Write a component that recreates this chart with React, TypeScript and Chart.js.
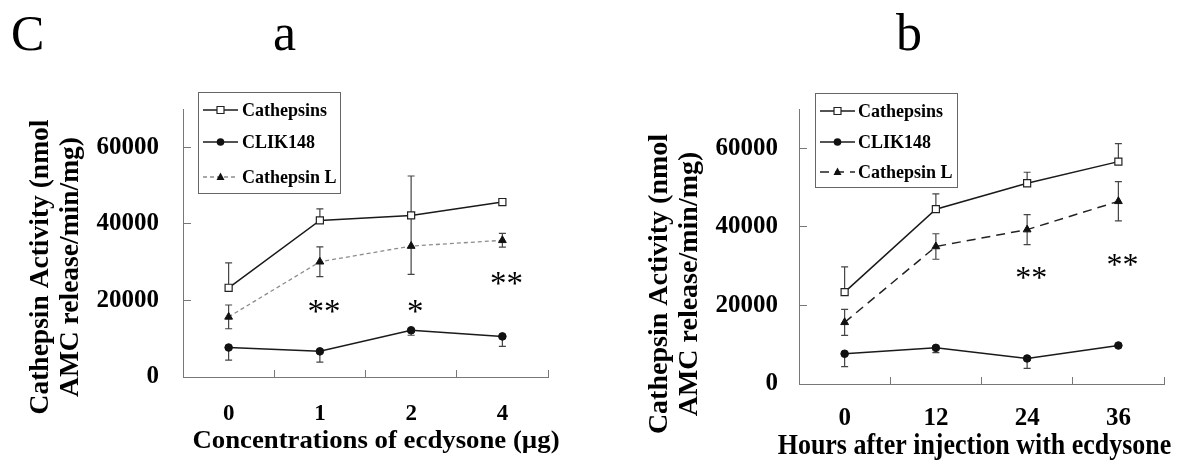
import React, { useEffect, useRef } from 'react';
import { Chart, registerables } from 'chart.js';
Chart.register(...registerables);

// ---------- data ----------
const seriesNames = ['Cathepsins', 'CLIK148', 'Cathepsin L'];

const doseLabels = ['0', '1', '2', '4'];
const doseCathepsins = [23300, 40900, 42200, 45700];
const doseCathepsinsErrUp = [6500, 3000, 10300, 700];
const doseClik = [7700, 6700, 12200, 10600];
const doseClikErrDown = [3300, 2800, 1300, 2600];
const doseCathL = [15700, 30100, 34200, 35700];
const doseCathLErr = [3100, 3900, 7400, 1800];
const doseStars = ['', '**', '*', '**'];
const doseStarY = [0, 18300, 18400, 25800];

const hourLabels = ['0', '12', '24', '36'];
const hourCathepsins = [23400, 44500, 51100, 56600];
const hourCathepsinsErrUp = [6400, 3900, 2800, 4600];
const hourClik = [7700, 9200, 6500, 9800];
const hourClikErrDown = [3300, 1200, 2500, 300];
const hourCathL = [15700, 35000, 39300, 46500];
const hourCathLErr = [3300, 3250, 3800, 5000];
const hourStars = ['', '', '**', '**'];
const hourStarY = [0, 0, 28200, 31600];

const yTickValues = [0, 20000, 40000, 60000];
const yMin = 0;
const yMax = 70000;

const yTitleLines = ['Cathepsin Activity (nmol', 'AMC release/min/mg)'];
const doseXTitle = 'Concentrations of ecdysone (\u00b5g)';
const hourXTitle = 'Hours after injection with ecdysone';

const SERIF = '"Liberation Serif", "Times New Roman", serif';

type PanelCfg = {
  width: number;
  height: number;
  area: { left: number; right: number; top: number; bottom: number };
  labels: string[];
  cath: number[]; cathUp: number[];
  clik: number[]; clikDown: number[];
  cathL: number[]; cathLErr: number[];
  stars: string[]; starY: number[]; starFont: number;
  cathLColor: string; cathLDash: number[]; cathLWidth: number;
  yTickFont: number; yTickPad: number;
  xTickFont: number; xTickPad: number;
  yTitleFont: number; yTitleX: [number, number]; yTitleCY: number;
  xTitle: string; xTitleFont: number; xTitleSX: number; xTitleCX: number; xTitleBase: number;
  legend: { x1: number; y1: number; x2: number; y2: number; rows: number[]; sx1: number; sx2: number; tx: number; font: number };
  panelTexts: { text: string; x: number; base: number; size: number }[];
};

const drawMarker = (ctx: CanvasRenderingContext2D, kind: string, x: number, y: number) => {
  ctx.save();
  ctx.setLineDash([]);
  ctx.lineWidth = 1.2;
  ctx.strokeStyle = '#222';
  if (kind === 'rect') {
    ctx.fillStyle = '#fff';
    ctx.beginPath();
    ctx.rect(x - 3.5, y - 3.5, 7, 7);
    ctx.fill();
    ctx.stroke();
  } else if (kind === 'circle') {
    ctx.fillStyle = '#111';
    ctx.beginPath();
    ctx.arc(x, y, 3.8, 0, Math.PI * 2);
    ctx.fill();
  } else {
    ctx.fillStyle = '#111';
    ctx.beginPath();
    ctx.moveTo(x, y - 4.5);
    ctx.lineTo(x + 4, y + 3);
    ctx.lineTo(x - 4, y + 3);
    ctx.closePath();
    ctx.fill();
  }
  ctx.restore();
};

function makeChart(canvas: HTMLCanvasElement, p: PanelCfg) {
  const errorBars = {
    id: 'errorBars',
    beforeDatasetsDraw(chart: any) {
      const ctx = chart.ctx as CanvasRenderingContext2D;
      const ys = chart.scales.y;
      ctx.save();
      ctx.strokeStyle = '#444';
      ctx.lineWidth = 1.2;
      chart.data.datasets.forEach((ds: any, di: number) => {
        const meta = chart.getDatasetMeta(di);
        ds.data.forEach((v: number, i: number) => {
          const up = ds.errUp ? ds.errUp[i] : 0;
          const dn = ds.errDown ? ds.errDown[i] : 0;
          const x = meta.data[i].x;
          const yTop = ys.getPixelForValue(v + up);
          const yBot = ys.getPixelForValue(v - dn);
          ctx.beginPath();
          ctx.moveTo(x, yTop);
          ctx.lineTo(x, yBot);
          if (up > 0) { ctx.moveTo(x - 3.5, yTop); ctx.lineTo(x + 3.5, yTop); }
          if (dn > 0) { ctx.moveTo(x - 3.5, yBot); ctx.lineTo(x + 3.5, yBot); }
          ctx.stroke();
        });
      });
      ctx.restore();
    },
  };

  const texts = {
    id: 'texts',
    afterDraw(chart: any) {
      const ctx = chart.ctx as CanvasRenderingContext2D;
      const xs = chart.scales.x;
      const ys = chart.scales.y;
      ctx.save();
      ctx.fillStyle = '#000';
      // significance stars
      ctx.font = `${p.starFont}px ${SERIF}`;
      ctx.textAlign = 'center';
      ctx.textBaseline = 'alphabetic';
      p.stars.forEach((s, i) => {
        if (!s) return;
        const m = ctx.measureText(s);
        const x = xs.getPixelForValue(i);
        const y = ys.getPixelForValue(p.starY[i]);
        ctx.fillText(s, x + 4, y + (m.actualBoundingBoxAscent - m.actualBoundingBoxDescent) / 2);
      });
      // y title
      ctx.font = `bold ${p.yTitleFont}px ${SERIF}`;
      ctx.textBaseline = 'middle';
      yTitleLines.forEach((line, li) => {
        ctx.save();
        ctx.translate(p.yTitleX[li], p.yTitleCY);
        ctx.rotate(-Math.PI / 2);
        ctx.fillText(line, 0, 0);
        ctx.restore();
      });
      // x title
      ctx.font = `bold ${p.xTitleFont}px ${SERIF}`;
      ctx.textBaseline = 'alphabetic';
      ctx.save();
      ctx.translate(p.xTitleCX, p.xTitleBase);
      ctx.scale(p.xTitleSX, 1);
      ctx.fillText(p.xTitle, 0, 0);
      ctx.restore();
      // panel letters
      ctx.textAlign = 'left';
      p.panelTexts.forEach((t) => {
        ctx.font = `${t.size}px ${SERIF}`;
        ctx.fillText(t.text, t.x, t.base);
      });
      // legend
      const L = p.legend;
      ctx.fillStyle = '#fff';
      ctx.fillRect(L.x1, L.y1, L.x2 - L.x1, L.y2 - L.y1);
      ctx.strokeStyle = '#666';
      ctx.lineWidth = 1;
      ctx.strokeRect(L.x1 + 0.5, L.y1 + 0.5, L.x2 - L.x1, L.y2 - L.y1);
      const kinds = ['rect', 'circle', 'triangle'];
      chart.data.datasets.forEach((ds: any, i: number) => {
        const y = L.rows[i];
        ctx.save();
        ctx.strokeStyle = ds.borderColor;
        ctx.lineWidth = ds.borderWidth;
        ctx.setLineDash(ds.borderDash || []);
        ctx.beginPath();
        ctx.moveTo(L.sx1, y);
        ctx.lineTo(L.sx2, y);
        ctx.stroke();
        ctx.restore();
        drawMarker(ctx, kinds[i], (L.sx1 + L.sx2) / 2, y);
        ctx.fillStyle = '#000';
        ctx.font = `bold ${L.font}px ${SERIF}`;
        ctx.textAlign = 'left';
        ctx.textBaseline = 'middle';
        ctx.fillText(ds.label, L.tx, y + 1);
      });
      ctx.restore();
    },
  };

  return new Chart(canvas, {
    type: 'line',
    data: {
      labels: p.labels,
      datasets: [
        {
          label: seriesNames[0], data: p.cath, errUp: p.cathUp,
          borderColor: '#1a1a1a', borderWidth: 1.5,
          pointStyle: 'rect', pointRadius: 5, pointBackgroundColor: '#fff',
          pointBorderColor: '#222', pointBorderWidth: 1.2,
        } as any,
        {
          label: seriesNames[1], data: p.clik, errDown: p.clikDown,
          borderColor: '#1a1a1a', borderWidth: 1.5,
          pointStyle: 'circle', pointRadius: 3.8, pointBackgroundColor: '#111',
          pointBorderColor: '#111', pointBorderWidth: 1,
        } as any,
        {
          label: seriesNames[2], data: p.cathL, errUp: p.cathLErr, errDown: p.cathLErr,
          borderColor: p.cathLColor, borderWidth: p.cathLWidth, borderDash: p.cathLDash,
          pointStyle: 'triangle', pointRadius: 4.5, pointBackgroundColor: '#111',
          pointBorderColor: '#111', pointBorderWidth: 1,
        } as any,
      ],
    },
    options: {
      animation: false,
      responsive: false,
      events: [],
      layout: {
        padding: {
          left: 0,
          top: p.area.top,
          right: p.width - p.area.right,
          bottom: 0,
        },
      },
      plugins: { legend: { display: false }, tooltip: { enabled: false }, title: { display: false } },
      scales: {
        x: {
          type: 'category',
          offset: true,
          grid: { display: true, offset: true, drawOnChartArea: false, drawTicks: true, tickLength: -7, color: '#777', lineWidth: 1 },
          border: { display: true, color: '#777', width: 1 },
          ticks: { color: '#000', font: { family: SERIF, size: p.xTickFont, weight: 'bold' }, padding: p.xTickPad, maxRotation: 0 },
          afterFit: (s: any) => { s.height = p.height - p.area.bottom; },
        },
        y: {
          type: 'linear',
          min: yMin,
          max: yMax,
          afterBuildTicks: (s: any) => { s.ticks = yTickValues.map((v) => ({ value: v })); },
          grid: { display: true, drawOnChartArea: false, drawTicks: true, tickLength: -8, color: '#777', lineWidth: 1 },
          border: { display: true, color: '#777', width: 1 },
          ticks: {
            color: '#000', font: { family: SERIF, size: p.yTickFont, weight: 'bold' }, padding: p.yTickPad,
            callback: (v: any) => String(v),
          },
          afterFit: (s: any) => { s.width = p.area.left; },
        },
      },
    } as any,
    plugins: [errorBars, texts],
  });
}

const leftPanel: PanelCfg = {
  width: 590, height: 465,
  area: { left: 183, right: 548, top: 109, bottom: 377 },
  labels: doseLabels,
  cath: doseCathepsins, cathUp: doseCathepsinsErrUp,
  clik: doseClik, clikDown: doseClikErrDown,
  cathL: doseCathL, cathLErr: doseCathLErr,
  stars: doseStars, starY: doseStarY, starFont: 33,
  cathLColor: '#8c8c8c', cathLDash: [4, 3], cathLWidth: 1.3,
  yTickFont: 25, yTickPad: 32,
  xTickFont: 23, xTickPad: 30,
  yTitleFont: 27.5, yTitleX: [41, 71], yTitleCY: 267,
  xTitle: doseXTitle, xTitleFont: 25.5, xTitleSX: 1.05, xTitleCX: 376, xTitleBase: 448,
  legend: { x1: 198, y1: 92, x2: 340, y2: 193, rows: [110, 142, 177], sx1: 203, sx2: 238, tx: 242, font: 18 },
  panelTexts: [
    { text: 'C', x: 11, base: 50, size: 50 },
    { text: 'a', x: 273, base: 50, size: 52 },
  ],
};

const rightPanel: PanelCfg = {
  width: 587, height: 465,
  area: { left: 209, right: 574, top: 109, bottom: 384 },
  labels: hourLabels,
  cath: hourCathepsins, cathUp: hourCathepsinsErrUp,
  clik: hourClik, clikDown: hourClikErrDown,
  cathL: hourCathL, cathLErr: hourCathLErr,
  stars: hourStars, starY: hourStarY, starFont: 32,
  cathLColor: '#222', cathLDash: [9, 6], cathLWidth: 1.5,
  yTickFont: 25, yTickPad: 29,
  xTickFont: 25, xTickPad: 27,
  yTitleFont: 28, yTitleX: [70, 100], yTitleCY: 284,
  xTitle: hourXTitle, xTitleFont: 30, xTitleSX: 0.865, xTitleCX: 384.5, xTitleBase: 454,
  legend: { x1: 225, y1: 93, x2: 367, y2: 187, rows: [111, 142, 172], sx1: 230, sx2: 265, tx: 268, font: 18 },
  panelTexts: [{ text: 'b', x: 306, base: 50, size: 52 }],
};

function Panel({ cfg, left }: { cfg: PanelCfg; left: number }) {
  const ref = useRef<HTMLCanvasElement | null>(null);
  useEffect(() => {
    if (!ref.current) return;
    const c = makeChart(ref.current, cfg);
    return () => c.destroy();
  }, [cfg]);
  return (
    <canvas
      ref={ref}
      width={cfg.width}
      height={cfg.height}
      style={{ position: 'absolute', left, top: 0, width: cfg.width, height: cfg.height }}
    />
  );
}

export default function App() {
  return (
    <div style={{ position: 'fixed', left: 0, top: 0, width: 1177, height: 465, background: '#fff', overflow: 'hidden' }}>
      <Panel cfg={leftPanel} left={0} />
      <Panel cfg={rightPanel} left={590} />
    </div>
  );
}
